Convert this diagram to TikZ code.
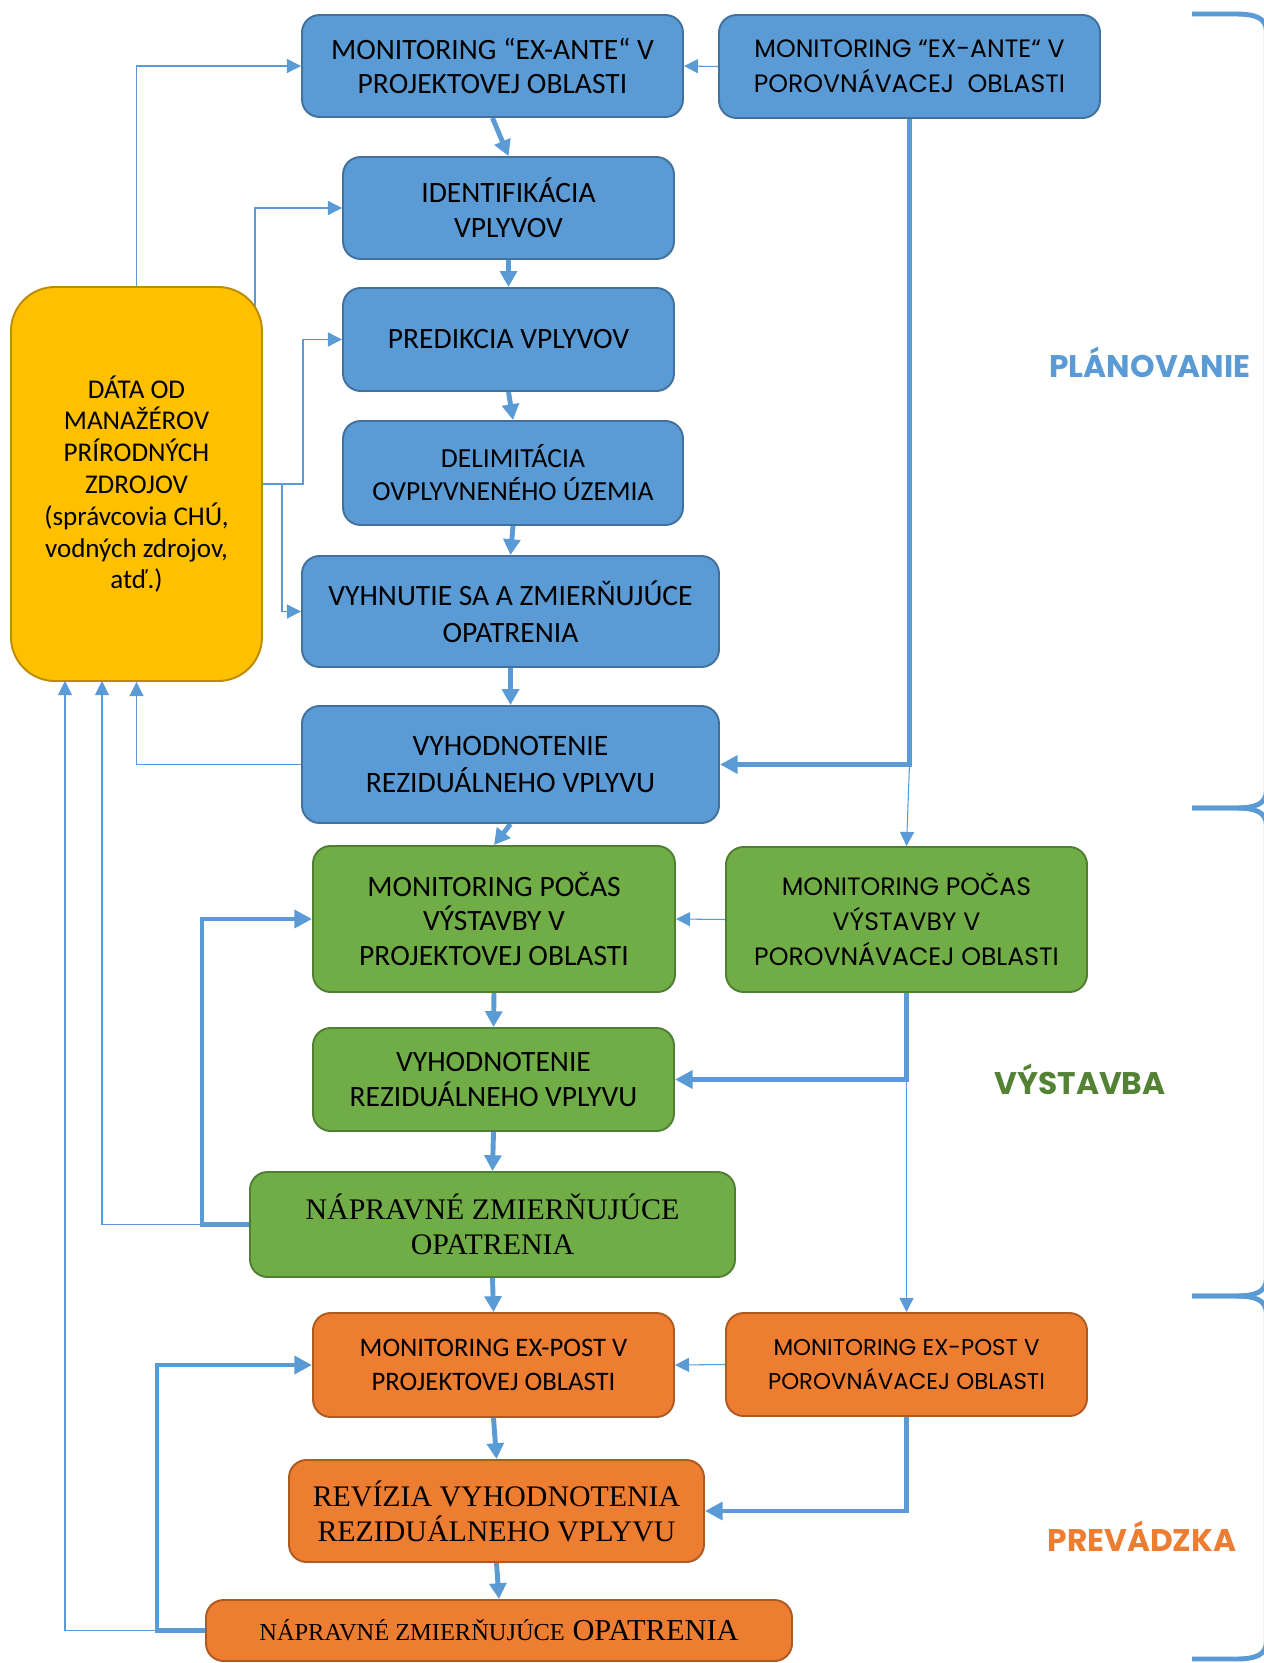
\documentclass[tikz,border=0pt]{standalone}
\usepackage{fontspec}
\setmainfont{Carlito}
\newfontfamily\gothicfont{Poppins}
\newfontfamily\romanfont{Liberation Serif}
\usepackage{tikz}
\usetikzlibrary{arrows.meta,backgrounds}
\definecolor{planfill}{HTML}{5B9BD5}
\definecolor{planline}{HTML}{41719C}
\definecolor{buildfill}{HTML}{70AD47}
\definecolor{buildline}{HTML}{507E32}
\definecolor{runfill}{HTML}{ED7D31}
\definecolor{runline}{HTML}{AE5A21}
\definecolor{datafill}{HTML}{FFC000}
\definecolor{dataline}{HTML}{BC8C00}
\definecolor{linkblue}{HTML}{5B9BD5}
\definecolor{buildtext}{HTML}{548235}
\newcommand{\pxunit}{0.02cm}
\newcommand{\calsize}{\fontsize{16.8}{19.8}\selectfont}
\tikzstyle{phasebox}=[draw, line width=1.1pt, rounded corners=10pt, align=center, inner sep=0, text=black, font=\calsize]
\tikzstyle{planbox}=[phasebox, fill=planfill, draw=planline]
\tikzstyle{buildbox}=[phasebox, fill=buildfill, draw=buildline]
\tikzstyle{runbox}=[phasebox, fill=runfill, draw=runline]
\tikzstyle{databox}=[phasebox, fill=datafill, draw=dataline, rounded corners=25pt]
\tikzstyle{comparefont}=[font=\gothicfont\fontsize{14.3}{19.8}\selectfont]
\tikzstyle{flow}=[draw=linkblue, line width=2.8pt, -{Triangle[length=9pt,width=9.5pt]}]
\tikzstyle{feedline}=[draw=linkblue, line width=0.6pt, -{Triangle[length=8pt,width=8pt]}]
\tikzstyle{loopline}=[draw=linkblue, line width=2.8pt, -{Triangle[length=10pt,width=10pt]}]
\tikzstyle{brace}=[draw=linkblue, line width=2.8pt]
\tikzstyle{phaselabel}=[font=\gothicfont\bfseries\fontsize{17.8}{20}\selectfont]
\tikzstyle{phasechart}=[x=\pxunit, y=-\pxunit]
\begin{document}
\begin{tikzpicture}[phasechart]
    \useasboundingbox (0,0) rectangle (1264,1663);
    % planovanie
    \node[planbox, minimum width=381*\pxunit, minimum height=102*\pxunit] (exante) at (492.5,66) {MONITORING “EX-ANTE“ V\\PROJEKTOVEJ OBLASTI};
    \node[planbox, comparefont, minimum width=381*\pxunit, minimum height=103*\pxunit] (excompare) at (909.5,66.5) {MONITORING “EX-ANTE“ V\\POROVNÁVACEJ~~OBLASTI};
    \node[planbox, minimum width=331*\pxunit, minimum height=102*\pxunit] (identify) at (508.5,208) {IDENTIFIKÁCIA\\VPLYVOV};
    \node[planbox, minimum width=331*\pxunit, minimum height=103*\pxunit] (predict) at (508.5,339.5) {PREDIKCIA VPLYVOV};
    \node[planbox, font=\fontsize{15.7}{18.7}\selectfont, minimum width=340*\pxunit, minimum height=104*\pxunit] (delimit) at (513,473) {DELIMITÁCIA\\OVPLYVNENÉHO ÚZEMIA};
    \node[planbox, font=\fontsize{16.8}{21}\selectfont, minimum width=417*\pxunit, minimum height=111*\pxunit] (avoid) at (510.5,611.5) {VYHNUTIE SA A ZMIERŇUJÚCE\\OPATRENIA};
    \node[planbox, font=\fontsize{16.9}{21.4}\selectfont, minimum width=417*\pxunit, minimum height=117*\pxunit] (residual) at (510.5,764.5) {VYHODNOTENIE\\REZIDUÁLNEHO VPLYVU};
    \node[databox, font=\fontsize{15.4}{18.1}\selectfont, minimum width=251*\pxunit, minimum height=394*\pxunit] (data) at (136.5,484) {DÁTA OD\\MANAŽÉROV\\PRÍRODNÝCH\\ZDROJOV\\(správcovia CHÚ,\\vodných zdrojov,\\atď.)};
    % vystavba
    \node[buildbox, minimum width=362*\pxunit, minimum height=146*\pxunit] (buildmon) at (494,919) {MONITORING POČAS\\VÝSTAVBY V\\PROJEKTOVEJ OBLASTI};
    \node[buildbox, comparefont, minimum width=361*\pxunit, minimum height=145*\pxunit] (buildcompare) at (906.5,919.5) {MONITORING POČAS\\VÝSTAVBY V\\POROVNÁVACEJ OBLASTI};
    \node[buildbox, minimum width=361*\pxunit, minimum height=103*\pxunit] (buildres) at (493.5,1079.5) {VYHODNOTENIE\\REZIDUÁLNEHO VPLYVU};
    \node[buildbox, font=\romanfont\fontsize{17}{19.8}\selectfont, minimum width=485*\pxunit, minimum height=105*\pxunit] (buildfix) at (492.5,1224.5) {NÁPRAVNÉ ZMIERŇUJÚCE\\OPATRENIA};
    % prevadzka
    \node[runbox, font=\fontsize{15.2}{19.8}\selectfont, minimum width=361*\pxunit, minimum height=104*\pxunit] (postmon) at (493.5,1365) {MONITORING EX-POST V\\PROJEKTOVEJ OBLASTI};
    \node[runbox, font=\gothicfont\fontsize{13}{19.8}\selectfont, minimum width=361*\pxunit, minimum height=103*\pxunit] (postcompare) at (906.5,1364.5) {MONITORING EX-POST V\\POROVNÁVACEJ OBLASTI};
    \node[runbox, font=\romanfont\fontsize{17}{19.8}\selectfont, minimum width=415*\pxunit, minimum height=102*\pxunit] (review) at (496.5,1511) {REVÍZIA VYHODNOTENIA\\REZIDUÁLNEHO VPLYVU};
    \node[runbox, font=\romanfont\fontsize{17.3}{19.8}\selectfont, minimum width=586*\pxunit, minimum height=61*\pxunit] (postfix) at (499,1630.5) {{\fontsize{13.9}{15}\selectfont NÁPRAVNÉ ZMIERŇUJÚCE} OPATRENIA};
    % faza
    \node[phaselabel, text=planfill] (planlabel) at (1150,362) {PLÁNOVANIE};
    \node[phaselabel, text=buildtext] (buildlabel) at (1080,1079) {VÝSTAVBA};
    \node[phaselabel, text=runfill] (runlabel) at (1142,1536) {PREVÁDZKA};
    \draw[brace] (1192,14) -- (1235,14) .. controls (1256,14) and (1266.4,18) .. (1266.4,32) -- (1266.4,790) .. controls (1266.4,804) and (1256,808) .. (1235,808) -- (1192,808);
    \draw[brace] (1192,808) -- (1235,808) .. controls (1256,808) and (1266.4,812) .. (1266.4,826) -- (1266.4,1278) .. controls (1266.4,1292) and (1256,1296) .. (1235,1296) -- (1192,1296);
    \draw[brace] (1192,1296) -- (1235,1296) .. controls (1256,1296) and (1266.4,1300) .. (1266.4,1314) -- (1266.4,1641) .. controls (1266.4,1655) and (1256,1659) .. (1235,1659) -- (1192,1659);
    \coordinate (datacorner) at (255,320);
    \coordinate (datajoint) at (303,484);
    \coordinate (datasplit) at (282,484);
    \coordinate (datamid) at (102,681);
    \coordinate (dataleft) at (65,681);
    \begin{scope}[on background layer]
        % od manazerov
        \draw[feedline] (data.north) |- (exante.west);
        \draw[feedline] (datacorner) |- (identify.west);
        \draw[feedline] (data.east) -- (datajoint) |- (predict.west);
        \draw[feedline] (datasplit) |- (avoid.west);
        \draw[feedline] (residual.west) -| (data.south);
        \draw[feedline] (buildfix.west) -| (datamid);
        \draw[feedline] (postfix.west) -| (dataleft);
        % porovnavacia oblast
        \draw[feedline] (excompare.west) -- (exante.east);
        \draw[loopline] (excompare.south) |- (residual.east);
        \draw[feedline] (excompare.south |- residual.east) -- (buildcompare.north);
        \draw[feedline] (buildcompare.west) -- (buildmon.east);
        \draw[loopline] (buildcompare.south) |- (buildres.east);
        \draw[feedline] (buildcompare.south |- buildres.east) -- (postcompare.north);
        \draw[feedline] (postcompare.west) -- (postmon.east);
        \draw[loopline] (postcompare.south) |- (review.east);
        % napravne opatrenia
        \draw[loopline] (buildfix.west) -- ++(-47,0) |- (buildmon.west);
        \draw[loopline] (postfix.west) -- ++(-48,0) |- (postmon.west);
        % hlavny postup
        \draw[flow] (exante.south) -- (identify.north);
        \draw[flow] (identify.south) -- (predict.north);
        \draw[flow] (predict.south) -- (delimit.north);
        \draw[flow] (delimit.south) -- (avoid.north);
        \draw[flow] (avoid.south) -- (residual.north);
        \draw[flow] (residual.south) -- (buildmon.north);
        \draw[flow] (buildmon.south) -- (buildres.north);
        \draw[flow] (buildres.south) -- (buildfix.north);
        \draw[flow] (buildfix.south) -- (postmon.north);
        \draw[flow] (postmon.south) -- (review.north);
        \draw[flow] (review.south) -- (postfix.north);
    \end{scope}
\end{tikzpicture}
\end{document}
